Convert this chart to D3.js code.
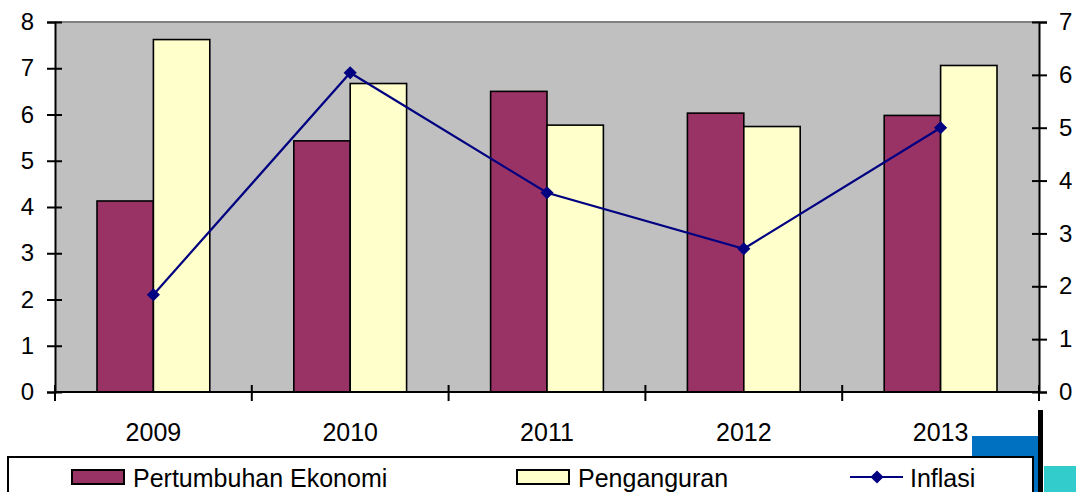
<!DOCTYPE html>
<html lang="id">
<head>
  <meta charset="UTF-8" />
  <title>Pertumbuhan Ekonomi, Penganguran, Inflasi</title>
  <script src="https://cdn.jsdelivr.net/npm/d3@7/dist/d3.min.js"></script>
  <style>
    html, body { margin: 0; padding: 0; background: #fff; }
    svg { display: block; font-family: "Liberation Sans", Arial, sans-serif; }
  </style>
</head>
<body>
  <svg id="chart" width="1076" height="492"></svg>
  <script>
    // data
    var years = ["2009", "2010", "2011", "2012", "2013"];
    var pertumbuhan = [4.13, 5.43, 6.50, 6.03, 5.98];
    var penganguran = [7.62, 6.67, 5.77, 5.74, 7.06];
    var inflasi = [1.84, 6.04, 3.77, 2.71, 5.00];
    var leftTicks = [0, 1, 2, 3, 4, 5, 6, 7, 8];
    var rightTicks = [0, 1, 2, 3, 4, 5, 6, 7];

    var svg = d3.select("#chart");
    var plot = { left: 55, right: 1039, top: 22, bottom: 392 };

    var x = d3.scaleBand().domain(years).range([plot.left, plot.right]);
    var xs = d3.scaleBand().domain(["p", "g"]).range([0, x.bandwidth()]).paddingOuter(0.745).paddingInner(0);
    var yL = d3.scaleLinear().domain([0, 8]).range([plot.bottom, plot.top]);
    var yR = d3.scaleLinear().domain([0, 7]).range([plot.bottom, plot.top]);

    // plot area
    svg.append("rect")
      .attr("x", plot.left).attr("y", plot.top)
      .attr("width", plot.right - plot.left).attr("height", plot.bottom - plot.top)
      .attr("fill", "#c0c0c0");
    svg.append("line")
      .attr("x1", plot.left).attr("x2", plot.right)
      .attr("y1", plot.top).attr("y2", plot.top)
      .attr("stroke", "#808080").attr("stroke-width", 2);

    // bars
    var g = svg.append("g");
    g.selectAll("rect.p").data(pertumbuhan).enter().append("rect")
      .attr("class", "p")
      .attr("x", (d, i) => x(years[i]) + xs("p"))
      .attr("y", d => yL(d))
      .attr("width", xs.bandwidth())
      .attr("height", d => yL(0) - yL(d))
      .attr("fill", "#993366").attr("stroke", "#000").attr("stroke-width", 1.6);
    g.selectAll("rect.g").data(penganguran).enter().append("rect")
      .attr("class", "g")
      .attr("x", (d, i) => x(years[i]) + xs("g"))
      .attr("y", d => yL(d))
      .attr("width", xs.bandwidth())
      .attr("height", d => yL(0) - yL(d))
      .attr("fill", "#ffffcc").attr("stroke", "#000").attr("stroke-width", 1.6);

    // axes
    var axL = svg.append("g").attr("transform", "translate(" + plot.left + ",0)")
      .call(d3.axisLeft(yL).tickValues(leftTicks).tickSize(8).tickPadding(13).tickFormat(d3.format("d")));
    var axR = svg.append("g").attr("transform", "translate(" + plot.right + ",0)")
      .call(d3.axisRight(yR).tickValues(rightTicks).tickSize(8).tickPadding(12).tickFormat(d3.format("d")));
    [axL, axR].forEach(function (ax) {
      ax.select(".domain").attr("stroke", "#000").attr("stroke-width", 2);
      ax.selectAll(".tick line").attr("stroke", "#000").attr("stroke-width", 2);
      ax.selectAll("text").attr("font-size", 24).attr("fill", "#000")
        .attr("font-family", "'Liberation Sans', Arial, sans-serif");
    });
    // cross ticks (extend into plot)
    axL.selectAll(".tick").append("line").attr("x1", 0).attr("x2", 7).attr("stroke", "#000").attr("stroke-width", 2);
    axR.selectAll(".tick").append("line").attr("x1", 0).attr("x2", -7).attr("stroke", "#000").attr("stroke-width", 2);

    // category axis
    var bounds = years.map(y => x(y)).concat([plot.right]);
    svg.append("line")
      .attr("x1", plot.left).attr("x2", plot.right)
      .attr("y1", plot.bottom).attr("y2", plot.bottom)
      .attr("stroke", "#000").attr("stroke-width", 2);
    svg.selectAll("line.xt").data(bounds).enter().append("line")
      .attr("class", "xt")
      .attr("x1", d => d).attr("x2", d => d)
      .attr("y1", plot.bottom - 7).attr("y2", plot.bottom + 9)
      .attr("stroke", "#000").attr("stroke-width", 2);
    svg.selectAll("text.xl").data(years).enter().append("text")
      .attr("class", "xl")
      .attr("x", d => x(d) + x.bandwidth() / 2)
      .attr("y", 441)
      .attr("text-anchor", "middle")
      .attr("font-size", 25)
      .text(d => d);

    // inflasi line
    var line = d3.line()
      .x((d, i) => x(years[i]) + x.bandwidth() / 2)
      .y(d => yR(d));
    svg.append("path")
      .datum(inflasi)
      .attr("d", line)
      .attr("fill", "none").attr("stroke", "#000080").attr("stroke-width", 2.2);
    var diamond = d3.symbol().type(d3.symbolDiamond2).size(110);
    svg.selectAll("path.mk").data(inflasi).enter().append("path")
      .attr("class", "mk")
      .attr("d", diamond)
      .attr("transform", (d, i) => "translate(" + (x(years[i]) + x.bandwidth() / 2) + "," + yR(d) + ")")
      .attr("fill", "#000080");

    // stray shapes at the bottom right
    svg.append("rect").attr("x", 972).attr("y", 436).attr("width", 67).attr("height", 60).attr("fill", "#0070c0");
    svg.append("rect").attr("x", 1038).attr("y", 410).attr("width", 5).attr("height", 90).attr("fill", "#000");
    svg.append("rect").attr("x", 1044).attr("y", 466).attr("width", 40).attr("height", 30).attr("fill", "#33cccc");

    // legend
    var lg = svg.append("g");
    lg.append("rect")
      .attr("x", 8).attr("y", 457).attr("width", 1025).attr("height", 60)
      .attr("fill", "#fff").attr("stroke", "#000").attr("stroke-width", 2);
    var legendItems = [
      { label: "Pertumbuhan Ekonomi", type: "bar", color: "#993366", x: 72 },
      { label: "Penganguran", type: "bar", color: "#ffffcc", x: 517 },
      { label: "Inflasi", type: "line", color: "#000080", x: 850 }
    ];
    legendItems.forEach(function (it) {
      if (it.type === "bar") {
        lg.append("rect").attr("x", it.x).attr("y", 470).attr("width", 52).attr("height", 14)
          .attr("fill", it.color).attr("stroke", "#000").attr("stroke-width", 2);
        lg.append("text").attr("x", it.x + 61).attr("y", 487).attr("font-size", 25).text(it.label);
      } else {
        lg.append("line").attr("x1", it.x).attr("x2", it.x + 53).attr("y1", 477).attr("y2", 477)
          .attr("stroke", it.color).attr("stroke-width", 2.2);
        lg.append("path").attr("d", diamond).attr("transform", "translate(" + (it.x + 27) + ",477)")
          .attr("fill", it.color);
        lg.append("text").attr("x", it.x + 60).attr("y", 487).attr("font-size", 25).text(it.label);
      }
    });
  </script>
</body>
</html>
